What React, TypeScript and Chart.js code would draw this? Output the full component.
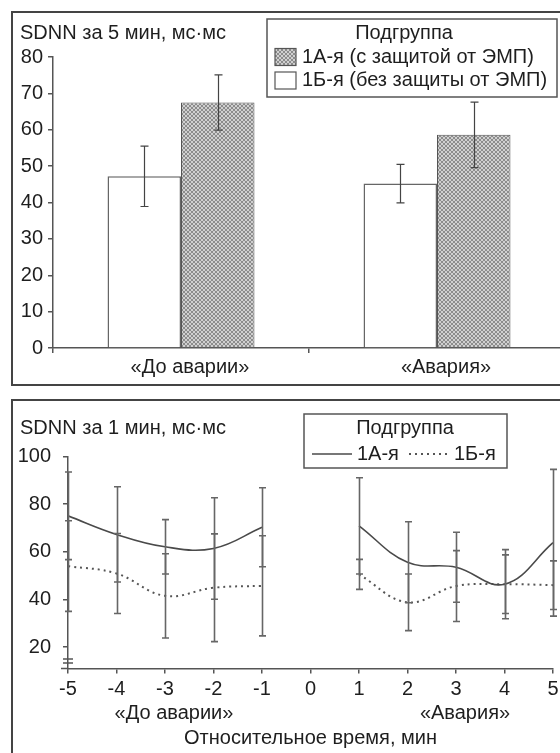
import React, { useEffect, useRef } from "react";
import { Chart, registerables } from "chart.js";
Chart.register(...registerables);

const FONT_FAMILY = '"Liberation Sans", Arial, Helvetica, sans-serif';
const FONT_SIZE = 20;
const TEXT_COLOR = "#1e1e1e";
const AXIS_COLOR = "#555555";

// ---------- top panel data ----------
const barTitle = "SDNN за 5 мин, мс·мс";
const barCategories = ["«До аварии»", "«Авария»"];
const barTicks = [0, 10, 20, 30, 40, 50, 60, 70, 80];
const label1A = "1А-я (с защитой от ЭМП)";
const label1B = "1Б-я (без защиты от ЭМП)";
const bar1A = [67.5, 58.6];
const bar1AErr = [7.6, 9.0];
const bar1B = [47.2, 45.2];
const bar1BErr = [8.3, 5.3];
const legendTitle = "Подгруппа";

// ---------- bottom panel data ----------
const lineTitle = "SDNN за 1 мин, мс·мс";
const minutes = [-5, -4, -3, -2, -1, 0, 1, 2, 3, 4, 5];
const minuteTicks = [-5, -4, -3, -2, -1, 0, 1, 2, 3, 4, 5];
const lineTicks = [20, 40, 60, 80, 100];
const line1A = [75.1, 67.3, 62.1, 61.4, 70.3, null, 70.9, 55.6, 53.5, 46.4, 63.8];
const line1AErr = [18.4, 20.0, 11.4, 21.3, 16.6, null, 20.2, 17.0, 14.7, 14.5, 30.8];
const line1B = [54.0, 50.9, 41.5, 44.9, 45.7, null, 50.5, 38.8, 45.6, 46.4, 46.0];
const line1BErr = [19.0, 16.8, 17.7, 22.6, 21.0, null, 6.3, 11.9, 14.9, 12.3, 10.2];
const lineLabel1A = "1А-я";
const lineLabel1B = "1Б-я";
const periodLabels = ["«До аварии»", "«Авария»"];
const periodFrom = [-5, 1];
const periodTo = [-1, 5];
const xAxisTitle = "Относительное время, мин";

const fontObj = { family: FONT_FAMILY, size: FONT_SIZE };
const fontStr = `${FONT_SIZE}px ${FONT_FAMILY}`;

function makeHatch(): any {
  const c = document.createElement("canvas");
  c.width = 4;
  c.height = 4;
  const g = c.getContext("2d");
  if (!g) return "#aaa";
  g.fillStyle = "#d0d0d0";
  g.fillRect(0, 0, 4, 4);
  g.fillStyle = "#8c8c8c";
  for (let i = 0; i < 4; i++) {
    g.fillRect(i, i, 1, 1);
    g.fillRect(3 - i, i, 1, 1);
  }
  return g.createPattern(c, "repeat") || "#aaa";
}

const panelTitlePlugin = {
  id: "panelTitle",
  afterDraw(chart: any, _a: any, o: any) {
    if (!o || !o.text) return;
    const ctx = chart.ctx;
    ctx.save();
    ctx.font = fontStr;
    ctx.fillStyle = TEXT_COLOR;
    ctx.textAlign = "left";
    ctx.textBaseline = "middle";
    ctx.fillText(o.text, o.x, o.y);
    ctx.restore();
  },
};

const errorBarPlugin = {
  id: "errorBars",
  afterDatasetsDraw(chart: any, _a: any, o: any) {
    const ctx = chart.ctx;
    ctx.save();
    ctx.strokeStyle = o.color;
    ctx.lineWidth = o.width;
    chart.data.datasets.forEach((ds: any, di: number) => {
      const errs = ds.errors;
      if (!errs) return;
      const meta = chart.getDatasetMeta(di);
      const ys = chart.scales[meta.yAxisID];
      meta.data.forEach((el: any, i: number) => {
        const p = meta.controller.getParsed(i);
        const e = errs[i];
        if (!p || p.y == null || isNaN(p.y) || e == null) return;
        const x = Math.round(el.x) + 0.5;
        const top = ys.getPixelForValue(p.y + e);
        const bot = ys.getPixelForValue(p.y - e);
        ctx.beginPath();
        ctx.moveTo(x, top);
        ctx.lineTo(x, bot);
        ctx.moveTo(x - o.cap, top);
        ctx.lineTo(x + o.cap, top);
        ctx.moveTo(x - o.cap, bot);
        ctx.lineTo(x + o.cap, bot);
        ctx.stroke();
      });
    });
    ctx.restore();
  },
};

const axisBreakPlugin = {
  id: "axisBreak",
  afterDraw(chart: any, _a: any, o: any) {
    if (!o || !o.show) return;
    const ctx = chart.ctx;
    const { left, bottom } = chart.chartArea;
    ctx.save();
    ctx.strokeStyle = AXIS_COLOR;
    ctx.lineWidth = 1.5;
    ctx.beginPath();
    // x-axis runs a little past the y-axis
    ctx.moveTo(left - 7, bottom);
    ctx.lineTo(left, bottom);
    // "=" break mark on the y-axis
    ctx.moveTo(left - 5, bottom - 9.5);
    ctx.lineTo(left + 5, bottom - 9.5);
    ctx.moveTo(left - 5, bottom - 5.5);
    ctx.lineTo(left + 5, bottom - 5.5);
    ctx.stroke();
    ctx.restore();
  },
};

const boxLegendPlugin = {
  id: "boxLegend",
  afterDraw(chart: any, _a: any, o: any) {
    if (!o || !o.box) return;
    const ctx = chart.ctx;
    ctx.save();
    const [bx, by, bw, bh] = o.box;
    ctx.fillStyle = "#ffffff";
    ctx.fillRect(bx, by, bw, bh);
    ctx.strokeStyle = AXIS_COLOR;
    ctx.lineWidth = 1.5;
    ctx.strokeRect(bx, by, bw, bh);
    ctx.font = fontStr;
    ctx.fillStyle = TEXT_COLOR;
    ctx.textBaseline = "middle";
    ctx.textAlign = "center";
    ctx.fillText(o.title, o.titleX, o.titleY);
    ctx.textAlign = "left";
    o.order.forEach((di: number, k: number) => {
      const ds = chart.data.datasets[di];
      const [sx, sy] = o.slots[k];
      if (o.kind === "box") {
        const sw = o.sw, sh = o.sh;
        ctx.fillStyle = ds.backgroundColor;
        ctx.fillRect(sx, sy - sh / 2, sw, sh);
        ctx.strokeStyle = "#555";
        ctx.lineWidth = 1.2;
        ctx.strokeRect(sx, sy - sh / 2, sw, sh);
        ctx.fillStyle = TEXT_COLOR;
        ctx.fillText(ds.label, sx + sw + o.gap, sy);
      } else {
        ctx.beginPath();
        ctx.strokeStyle = ds.borderColor;
        ctx.lineWidth = ds.borderWidth;
        ctx.setLineDash(ds.borderDash || []);
        ctx.moveTo(sx, sy);
        ctx.lineTo(sx + o.sw, sy);
        ctx.stroke();
        ctx.setLineDash([]);
        ctx.fillStyle = TEXT_COLOR;
        ctx.fillText(ds.label, sx + o.sw + o.gap, sy);
      }
    });
    ctx.restore();
  },
};

const periodLabelPlugin = {
  id: "periodLabels",
  afterDraw(chart: any, _a: any, o: any) {
    if (!o || !o.labels) return;
    const ctx = chart.ctx;
    const xs = chart.scales.x;
    ctx.save();
    ctx.font = fontStr;
    ctx.fillStyle = TEXT_COLOR;
    ctx.textAlign = "center";
    ctx.textBaseline = "middle";
    o.labels.forEach((t: string, i: number) => {
      const cx = xs.getPixelForValue((o.from[i] + o.to[i]) / 2) + o.offset;
      ctx.fillText(t, cx, o.y);
    });
    ctx.restore();
  },
};

export default function App() {
  const topRef = useRef<HTMLCanvasElement>(null);
  const botRef = useRef<HTMLCanvasElement>(null);

  useEffect(() => {
    const hatch = makeHatch();
    const axisGrid = {
      drawOnChartArea: false,
      drawTicks: true,
      tickLength: 5,
      color: AXIS_COLOR,
      lineWidth: 1.5,
    };
    const axisBorder = { display: true, color: AXIS_COLOR, width: 1.5 };

    const c1 = new Chart(topRef.current as HTMLCanvasElement, {
      type: "bar",
      data: {
        labels: barCategories,
        datasets: [
          {
            label: label1B,
            data: bar1B,
            errors: bar1BErr,
            backgroundColor: "#ffffff",
            borderColor: "#666666",
            borderWidth: 1.5,
            categoryPercentage: 0.574,
            barPercentage: 1,
          } as any,
          {
            label: label1A,
            data: bar1A,
            errors: bar1AErr,
            backgroundColor: hatch,
            borderColor: "#555555",
            borderWidth: 1,
            categoryPercentage: 0.574,
            barPercentage: 1,
          } as any,
        ],
      },
      options: {
        animation: false,
        responsive: false,
        layout: { padding: { left: 0, top: 57, right: 15, bottom: 0 } },
        plugins: {
          legend: { display: false },
          tooltip: { enabled: false },
          panelTitle: { text: barTitle, x: 20, y: 33 },
          errorBars: { color: "#444444", width: 1.2, cap: 4 },
          boxLegend: {
            kind: "box",
            box: [267, 19, 290, 78],
            title: legendTitle,
            titleX: 404,
            titleY: 33,
            order: [1, 0],
            slots: [
              [275, 57],
              [275, 80.5],
            ],
            sw: 21,
            sh: 17,
            gap: 6,
          },
        } as any,
        scales: {
          x: {
            grid: { ...axisGrid, offset: true },
            border: axisBorder,
            ticks: { font: fontObj, color: TEXT_COLOR, padding: 2, labelOffset: 9 },
            afterFit: (s: any) => {
              s.height = 44;
            },
          },
          y: {
            min: barTicks[0],
            max: barTicks[barTicks.length - 1],
            afterBuildTicks: (s: any) => {
              s.ticks = barTicks.map((v) => ({ value: v }));
            },
            grid: axisGrid,
            border: axisBorder,
            ticks: { font: fontObj, color: TEXT_COLOR, padding: 5 },
            afterFit: (s: any) => {
              s.width = 53;
            },
          },
        },
      },
      plugins: [panelTitlePlugin, errorBarPlugin, boxLegendPlugin],
    });

    const c2 = new Chart(botRef.current as HTMLCanvasElement, {
      type: "line",
      data: {
        datasets: [
          {
            label: lineLabel1A,
            data: minutes.map((m, i) => ({ x: m, y: line1A[i] })),
            errors: line1AErr,
            borderColor: "#4a4a4a",
            borderWidth: 1.6,
            pointRadius: 0,
            tension: 0.4,
            fill: false,
            spanGaps: false,
          } as any,
          {
            label: lineLabel1B,
            data: minutes.map((m, i) => ({ x: m, y: line1B[i] })),
            errors: line1BErr,
            borderColor: "#555555",
            borderWidth: 2,
            borderDash: [2, 4],
            pointRadius: 0,
            tension: 0.4,
            fill: false,
            spanGaps: false,
          } as any,
        ],
      },
      options: {
        animation: false,
        responsive: false,
        layout: { padding: { left: 0, top: 63.5, right: 27, bottom: 0 } },
        plugins: {
          legend: { display: false },
          tooltip: { enabled: false },
          panelTitle: { text: lineTitle, x: 20, y: 35.5 },
          errorBars: { color: "#666666", width: 1.6, cap: 3.5 },
          axisBreak: { show: true },
          boxLegend: {
            kind: "line",
            box: [304, 21, 203, 54],
            title: legendTitle,
            titleX: 405,
            titleY: 35.5,
            order: [0, 1],
            slots: [
              [312, 61],
              [409, 61],
            ],
            sw: 40,
            gap: 5,
          },
          periodLabels: {
            labels: periodLabels,
            from: periodFrom,
            to: periodTo,
            offset: 9,
            y: 320.5,
          },
        } as any,
        scales: {
          x: {
            type: "linear",
            min: minuteTicks[0],
            max: minuteTicks[minuteTicks.length - 1],
            afterBuildTicks: (s: any) => {
              s.ticks = minuteTicks.map((v) => ({ value: v }));
            },
            grid: axisGrid,
            border: axisBorder,
            ticks: { font: fontObj, color: TEXT_COLOR, padding: 3.5 },
            title: {
              display: true,
              text: xAxisTitle,
              font: fontObj,
              color: TEXT_COLOR,
              padding: { top: 0, bottom: 3 },
            },
            afterFit: (s: any) => {
              s.height = 84.5;
            },
          },
          y: {
            min: 11,
            max: lineTicks[lineTicks.length - 1],
            afterBuildTicks: (s: any) => {
              s.ticks = lineTicks.map((v) => ({ value: v }));
            },
            grid: axisGrid,
            border: axisBorder,
            ticks: { font: fontObj, color: TEXT_COLOR, padding: 12 },
            afterFit: (s: any) => {
              s.width = 68;
            },
          },
        },
      },
      plugins: [panelTitlePlugin, errorBarPlugin, axisBreakPlugin, boxLegendPlugin, periodLabelPlugin],
    });

    return () => {
      c1.destroy();
      c2.destroy();
    };
  }, []);

  return (
    <div
      style={{
        position: "absolute",
        left: 0,
        top: 0,
        width: 560,
        height: 753,
        overflow: "hidden",
        background: "#ffffff",
      }}
    >
      <div
        style={{
          position: "absolute",
          left: 11,
          top: 11,
          width: 620,
          height: 375,
          border: "2px solid #444",
          boxSizing: "border-box",
        }}
      />
      <div
        style={{
          position: "absolute",
          left: 11,
          top: 399,
          width: 620,
          height: 400,
          border: "2px solid #444",
          boxSizing: "border-box",
        }}
      />
      <canvas
        ref={topRef}
        width={580}
        height={392}
        style={{ position: "absolute", left: 0, top: 0 }}
      />
      <canvas
        ref={botRef}
        width={580}
        height={360}
        style={{ position: "absolute", left: 0, top: 393 }}
      />
    </div>
  );
}
